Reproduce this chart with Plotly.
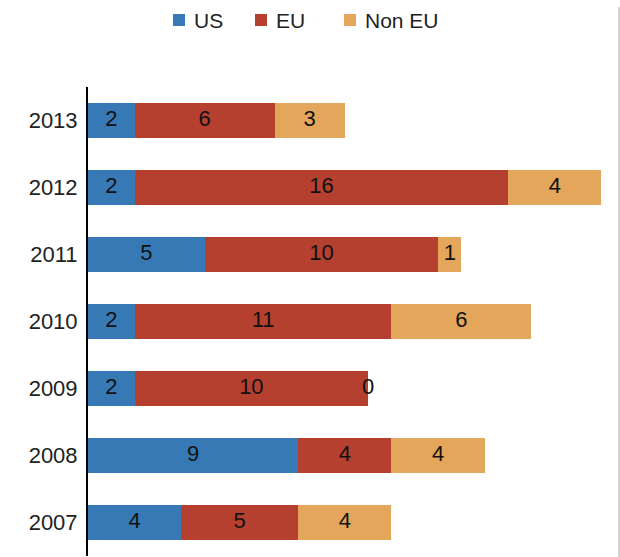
import plotly.graph_objects as go

years = ["2007", "2008", "2009", "2010", "2011", "2012", "2013"]
us = [4, 9, 2, 2, 5, 2, 2]
eu = [5, 4, 10, 11, 10, 16, 6]
non_eu = [4, 4, 0, 6, 1, 4, 3]

series_names = ["US", "EU", "Non EU"]
series_colors = ["#3679b4", "#b5402f", "#e3a65b"]
FONT = "Liberation Sans, Arial, sans-serif"

W, H = 620, 557
ML, MR, MT, MB = 88, 1, 87, 1
PW, PH = W - ML - MR, H - MT - MB


def px_x(p):
    return (p - ML) / PW


def px_y(p):
    return 1 + (MT - p) / PH


fig = go.Figure()
base = [0] * len(years)
label_x, label_y, label_t = [], [], []
for name, vals, color in zip(series_names, [us, eu, non_eu], series_colors):
    fig.add_trace(go.Bar(
        y=years, x=vals, name=name, orientation="h",
        marker=dict(color=color, line=dict(width=0)),
        hoverinfo="x+name", showlegend=False,
    ))
    for i, v in enumerate(vals):
        label_x.append(base[i] + v / 2)
        label_y.append(years[i])
        label_t.append(str(v))
        base[i] += v

# value labels centred on each segment
fig.add_trace(go.Scatter(
    x=label_x, y=label_y, text=label_t, mode="text",
    textfont=dict(size=22, color="#111111", family=FONT),
    showlegend=False, hoverinfo="skip",
))

# legend row across the top: coloured squares followed by the series names
legend_left = [173, 255, 344]
shapes, annotations = [], []
for left, name, color in zip(legend_left, series_names, series_colors):
    shapes.append(dict(type="rect", xref="paper", yref="paper",
                       x0=px_x(left), x1=px_x(left + 12),
                       y0=px_y(26), y1=px_y(14),
                       fillcolor=color, line=dict(width=0)))
    annotations.append(dict(xref="paper", yref="paper", x=px_x(left + 19), y=px_y(20),
                            xanchor="left", yanchor="middle", showarrow=False,
                            text=name, font=dict(size=21, color="#222222", family=FONT)))

# thin frame line on the right-hand edge
shapes.append(dict(type="line", xref="paper", yref="paper",
                   x0=px_x(619), x1=px_x(619), y0=px_y(557), y1=px_y(7),
                   line=dict(color="#c4c4c4", width=1.5)))

fig.update_layout(
    width=W, height=H,
    barmode="stack", bargap=0.49,
    margin=dict(l=ML, r=MR, t=MT, b=MB, autoexpand=False),
    plot_bgcolor="white", paper_bgcolor="white",
    font=dict(family=FONT, size=22, color="#222222"),
    showlegend=False,
    shapes=shapes, annotations=annotations,
    xaxis=dict(range=[0, 22.75], visible=False, fixedrange=True),
    yaxis=dict(
        categoryorder="array", categoryarray=years, range=[-0.5, 6.5],
        showline=True, linecolor="black", linewidth=2, showgrid=False, zeroline=False,
        ticks="outside", ticklen=4, tickcolor="rgba(0,0,0,0)",
        tickfont=dict(size=22, color="#222222"),
    ),
)

fig.write_html("out.html")
